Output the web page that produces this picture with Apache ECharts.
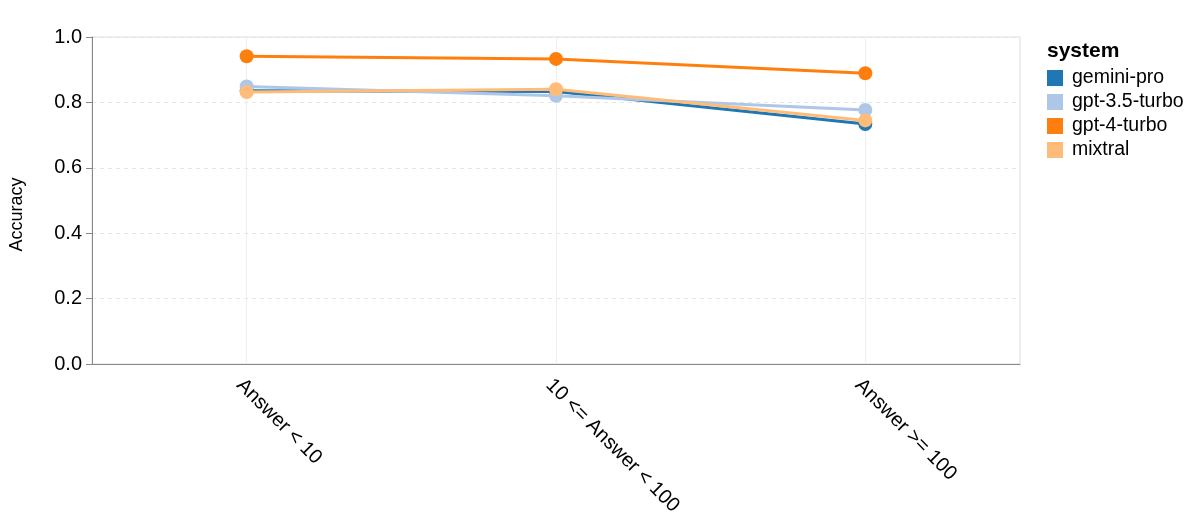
<!DOCTYPE html>
<html>
<head>
<meta charset="utf-8">
<script src="https://cdn.jsdelivr.net/npm/echarts@6/dist/echarts.min.js"></script>
<style>
  html, body { margin: 0; padding: 0; background: #fff; }
  #chart { width: 1196px; height: 523px; }
</style>
</head>
<body>
<div id="chart"></div>
<script>
// buckets on the x axis
const categories = ['Answer < 10', '10 <= Answer < 100', 'Answer >= 100'];

// accuracy per system
const geminiPro = [0.836, 0.833, 0.734];
const gpt35Turbo = [0.849, 0.820, 0.777];
const gpt4Turbo = [0.941, 0.933, 0.889];
const mixtral = [0.832, 0.840, 0.745];

const systems = ['gemini-pro', 'gpt-3.5-turbo', 'gpt-4-turbo', 'mixtral'];
const colors = ['#1f77b4', '#aec7e8', '#ff7f0e', '#ffbb78'];
const yTicks = [0, 0.2, 0.4, 0.6, 0.8, 1.0];

const font = 'Liberation Sans, Arial, Helvetica, sans-serif';
const chart = echarts.init(document.getElementById('chart'));

function mkSeries(name, data, i) {
  var s = {
    name: name,
    type: 'line',
    data: data,
    symbol: 'circle',
    symbolSize: 14,
    lineStyle: { width: 3, color: colors[i] },
    itemStyle: { color: colors[i] },
    emphasis: { disabled: true },
    z: 3 + i
  };
  // vertical grid lines at each category centre
  if (i === 0) {
    s.markLine = {
      silent: true,
      symbol: 'none',
      label: { show: false },
      lineStyle: { color: '#eeeeee', type: 'solid', width: 1 },
      data: categories.map(c => ({ xAxis: c })),
      z: 1
    };
  }
  return s;
}

const option = {
  animation: false,
  textStyle: { fontFamily: font },
  grid: {
    left: 89, right: 176, top: 37, bottom: 159,
    show: true, borderColor: '#dddddd', borderWidth: 1
  },
  graphic: [{
    type: 'text', left: 1047, top: 41,
    style: { text: 'system', font: 'bold 21px ' + font, fill: '#000' }
  }],
  legend: {
    orient: 'vertical',
    left: 1047, top: 68,
    padding: 0,
    icon: 'rect',
    itemWidth: 16, itemHeight: 16, itemGap: 4,
    textStyle: { fontSize: 19.5, color: '#000', fontFamily: font, padding: [0, 0, 0, 4] },
    data: systems
  },
  xAxis: {
    type: 'category',
    data: categories,
    boundaryGap: true,
    axisLine: { lineStyle: { color: '#888888', width: 1 } },
    axisTick: { alignWithLabel: true, length: 6, lineStyle: { color: '#888888' } },
    axisLabel: {
      rotate: -45, align: 'left', verticalAlign: 'top',
      fontSize: 20, color: '#000', margin: 11, fontFamily: font
    },
    splitLine: { show: false }
  },
  yAxis: {
    type: 'value',
    min: 0, max: 1, interval: 0.2,
    name: 'Accuracy',
    nameLocation: 'middle',
    nameGap: 66,
    nameTextStyle: { fontSize: 18, color: '#000', fontFamily: font, padding: [0, 28, 0, 0] },
    axisLine: { show: true, lineStyle: { color: '#888888', width: 1 } },
    axisTick: { show: true, length: 6, lineStyle: { color: '#888888' } },
    axisLabel: {
      fontSize: 20, color: '#000', margin: 10, fontFamily: font,
      formatter: v => yTicks.indexOf(+v.toFixed(1)) >= 0 ? v.toFixed(1) : ''
    },
    splitLine: { show: true, lineStyle: { color: '#e6e6e6', type: [4, 4], width: 1 } }
  },
  series: [
    mkSeries(systems[0], geminiPro, 0),
    mkSeries(systems[1], gpt35Turbo, 1),
    mkSeries(systems[2], gpt4Turbo, 2),
    mkSeries(systems[3], mixtral, 3)
  ]
};

chart.setOption(option);
</script>
</body>
</html>
